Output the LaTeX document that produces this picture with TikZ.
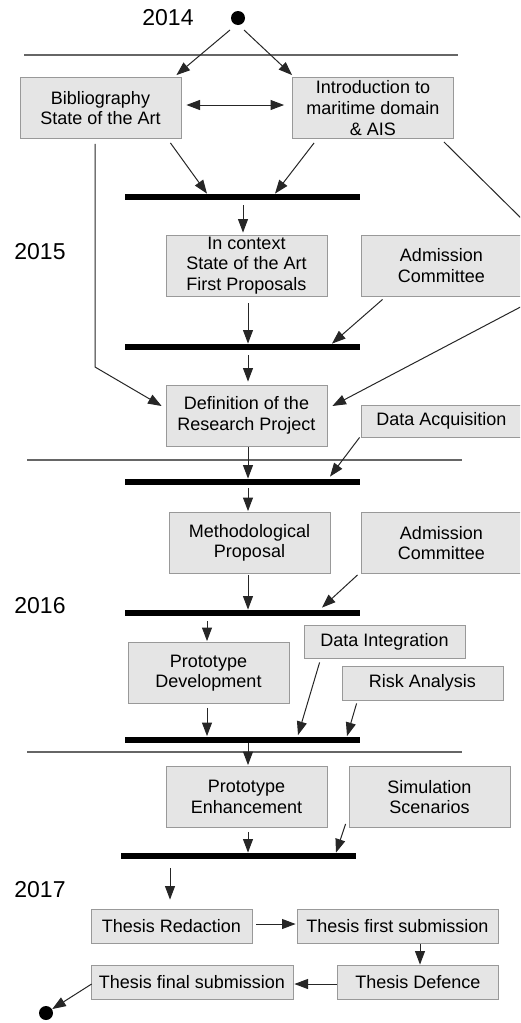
\documentclass[tikz,border=0pt]{standalone}
\usepackage{fontspec}
\setmainfont{Liberation Sans}
\usetikzlibrary{positioning, calc, arrows.meta}

\begin{document}
\begin{tikzpicture}[
    x=0.5pt, y=-0.5pt,
    >={Triangle[length=6.8pt, width=5pt]},
    every node/.style={font=\fontsize{9}{10.3}\selectfont},
    task/.style={
        draw=black!40, fill=black!10, align=center,
        inner sep=0.5pt, minimum width=80.5pt, minimum height=30.5pt
    },
    smalltask/.style={task, minimum height=17pt},
    bar/.style={fill=black, inner sep=0pt, minimum height=3pt},
    dot/.style={circle, fill=black, inner sep=0pt, minimum size=7pt},
    year/.style={font=\fontsize{11.5}{13}\selectfont},
    flow/.style={draw=black!85, line width=0.5pt, ->},
    sep/.style={draw=black!60, line width=0.6pt}
  ]
    \clip (0,0) rectangle (520,1023);

    % years
    \node[year] (y14) at (168,18) {2014};
    \node[year] (y15) at (40,252) {2015};
    \node[year] (y16) at (40,606) {2016};
    \node[year] (y17) at (40,890) {2017};

    % year separators
    \draw[sep] (24,55) -- (458,55);
    \draw[sep] (27,460) -- (462,460);
    \draw[sep] (27,752) -- (462,752);

    \node[dot] (start) at (238,18) {};
    \node[dot] (stop) at (46,1013) {};

    % tasks
    \node[task] (bib) at (100.5,108) {Bibliography\\State of the Art};
    \node[task] (intro) at (373,108) {Introduction to\\maritime domain\\\& AIS};
    \node[task] (inctx) at (246.5,265.5) {In context\\State of the Art\\First Proposals};
    \node[task] (adm1) at (441.5,265.5) {Admission\\Committee};
    \node[task] (def) at (246.5,415.5) {Definition of the\\Research Project};
    \node[smalltask, minimum height=16pt] (dacq) at (441.5,421) {Data Acquisition};
    \node[task] (meth) at (249.5,543) {Methodological\\Proposal};
    \node[task] (adm2) at (441.5,543) {Admission\\Committee};
    \node[task] (pdev) at (208.5,673) {Prototype\\Development};
    \node[smalltask, minimum height=16.5pt] (dint) at (384.5,641.5) {Data Integration};
    \node[smalltask] (risk) at (422.5,683) {Risk Analysis};
    \node[task] (penh) at (246.5,797) {Prototype\\Enhancement};
    \node[task] (sim) at (429.5,797) {Simulation\\Scenarios};
    \node[smalltask] (red) at (171.5,926) {Thesis Redaction};
    \node[smalltask, minimum width=100.5pt] (first) at (397.5,926) {Thesis first submission};
    \node[smalltask] (dfn) at (418,982) {Thesis Defence};
    \node[smalltask, minimum width=101pt] (final) at (192,982) {Thesis final submission};

    % synchronisation bars
    \node[bar, minimum width=117.5pt] (b1) at (242.5,197) {};
    \node[bar, minimum width=117.5pt] (b2) at (242.5,347) {};
    \node[bar, minimum width=117.5pt] (b3) at (242.5,482) {};
    \node[bar, minimum width=117.5pt] (b4) at (242.5,613) {};
    \node[bar, minimum width=117.5pt] (b5) at (242.5,739.5) {};
    \node[bar, minimum width=117.5pt] (b6) at (238.5,856) {};

    \coordinate (bibturn) at (95,367);
    \coordinate (detourA) at (530,227);
    \coordinate (detourB) at (530,302);

    % 2014
    \draw[flow] ($(start)+(-8,12)$) -- ($(bib.north east)+(-5,-2)$);
    \draw[flow] ($(start)+(6,12)$) -- ($(intro.north west)+(0,-2)$);
    \draw[flow, <->] ($(bib.east)+(5,-3)$) -- ($(intro.west)+(-8,-3)$);
    \draw[flow] ($(bib.south east)+(-11,4)$) -- ($(b1.north)+(-35.5,0)$);
    \draw[flow] ($(intro.south west)+(22,4)$) -- ($(b1.north)+(32.5,0)$);

    % 2015
    \draw[flow] ($(b1.south)+(0.5,5)$) -- ($(inctx.north)+(-3.5,-2)$);
    \draw[flow] ($(inctx.south)+(1.5,7)$) -- ($(b2.north)+(5.5,0)$);
    \draw[flow] ($(adm1.south west)+(22,3)$) -- ($(b2.north)+(89.5,0)$);
    \draw[flow] ($(b2.south)+(5.5,5)$) -- ($(def.north)+(1.5,-3)$);
    \draw[flow] ($(bib.south)+(-5.5,5)$) -- (bibturn) -- ($(def.west)+(-4,-9.5)$);
    \draw[flow] ($(intro.south east)+(-10,3)$) -- (detourA) -- (detourB) -- ($(def.east)+(5,-9.5)$);
    \draw[flow] ($(def.south)+(1.5,1)$) -- ($(b3.north)+(5.5,0)$);
    \draw[flow] ($(dacq.south west)+(-1,0)$) -- ($(b3.north)+(87.5,-2)$);

    % 2016
    \draw[flow] ($(b3.south)+(5.5,3)$) -- ($(meth.north)+(-1.5,-1)$);
    \draw[flow] ($(meth.south)+(-1.5,1)$) -- ($(b4.north)+(5.5,0)$);
    \draw[flow] ($(adm2.south west)+(-3,1)$) -- ($(b4.north)+(79.5,-2)$);
    \draw[flow] ($(b4.south)+(-35.5,5)$) -- ($(pdev.north)+(-1.5,-1)$);
    \draw[flow] ($(pdev.south)+(-1.5,4)$) -- ($(b5.north)+(-35.5,0)$);
    \draw[flow] ($(dint.south west)+(16,4)$) -- ($(b5.north)+(55.5,-1)$);
    \draw[flow] ($(risk.south west)+(15,3)$) -- ($(b5.north)+(104.5,0)$);
    \draw[flow] ($(b5.south)+(5.5,0)$) -- ($(penh.north)+(1.5,-1)$);
    \draw[flow] ($(penh.south)+(1.5,4)$) -- ($(b6.north)+(9.5,0)$);
    \draw[flow] ($(sim.south west)+(-3,-4)$) -- ($(b6.north)+(97.5,0)$);

    % 2017
    \draw[flow] ($(b6.south)+(-68.5,9)$) -- ($(red.north)+(-1.5,-9)$);
    \draw[flow] ($(red.east)+(4,-2)$) -- ($(first.west)+(-1,-2)$);
    \draw[flow] ($(first.south)+(22.5,1)$) -- ($(dfn.north)+(2,0)$);
    \draw[flow] ($(dfn.west)+(0,2)$) -- ($(final.east)+(1,2)$);
    \draw[flow] ($(final.west)+(1,2)$) -- (stop);
\end{tikzpicture}
\end{document}
